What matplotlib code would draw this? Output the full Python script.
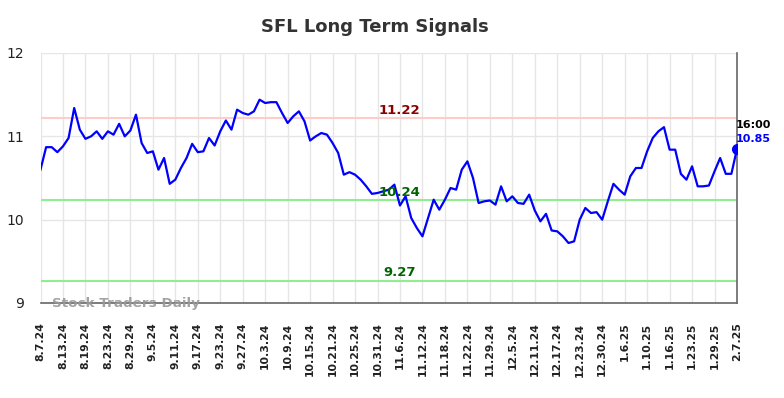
import numpy as np
import matplotlib.pyplot as plt

ticker = "SFL"
last_time = "16:00"

# closing prices, one per trading day shown on the chart
prices = [
    10.60, 10.87, 10.87, 10.81, 10.88, 10.98, 11.34, 11.08, 10.97, 11.00,
    11.06, 10.97, 11.06, 11.02, 11.15, 11.00, 11.07, 11.26, 10.92, 10.80,
    10.82, 10.60, 10.74, 10.43, 10.48, 10.62, 10.74, 10.91, 10.81, 10.82,
    10.98, 10.89, 11.06, 11.19, 11.08, 11.32, 11.28, 11.26, 11.30, 11.44,
    11.40, 11.41, 11.41, 11.28, 11.16, 11.24, 11.30, 11.18, 10.95, 11.00,
    11.04, 11.02, 10.92, 10.80, 10.54, 10.57, 10.54, 10.48, 10.40, 10.31,
    10.32, 10.34, 10.36, 10.42, 10.17, 10.28, 10.02, 9.90, 9.80, 10.02,
    10.24, 10.12, 10.24, 10.38, 10.36, 10.60, 10.70, 10.50, 10.20, 10.22,
    10.23, 10.18, 10.40, 10.22, 10.28, 10.20, 10.19, 10.30, 10.11, 9.98,
    10.07, 9.87, 9.86, 9.80, 9.72, 9.74, 10.00, 10.14, 10.08, 10.09,
    10.00, 10.22, 10.43, 10.36, 10.30, 10.52, 10.62, 10.62, 10.82, 10.98,
    11.06, 11.11, 10.84, 10.84, 10.55, 10.48, 10.64, 10.40, 10.40, 10.41,
    10.58, 10.74, 10.55, 10.55, 10.85,
]

tick_labels = [
    "8.7.24", "8.13.24", "8.19.24", "8.23.24", "8.29.24", "9.5.24", "9.11.24",
    "9.17.24", "9.23.24", "9.27.24", "10.3.24", "10.9.24", "10.15.24",
    "10.21.24", "10.25.24", "10.31.24", "11.6.24", "11.12.24", "11.18.24",
    "11.22.24", "11.29.24", "12.5.24", "12.11.24", "12.17.24", "12.23.24",
    "12.30.24", "1.6.25", "1.10.25", "1.16.25", "1.23.25", "1.29.25", "2.7.25",
]

resistance = 11.22
support_levels = [10.24, 9.27]

x = np.arange(len(prices))
tick_pos = np.arange(0, len(prices), 4)

fig = plt.figure(figsize=(7.84, 3.98), dpi=100)
ax = fig.add_axes([40.5 / 784, 1 - 303 / 398, 696.5 / 784, 250 / 398])

ax.plot(x, prices, color="blue", lw=1.6, zorder=3)
ax.plot(x[-1], prices[-1], "o", color="blue", ms=7, zorder=4)

ax.axhline(resistance, color="#ffcccc", lw=1.5, zorder=2)
for s in support_levels:
    ax.axhline(s, color="#90ee90", lw=1.5, zorder=2)

mid = 63.9
ax.text(mid, resistance + 0.09, f"{resistance:.2f}", color="#8b0000",
        fontsize=9.5, fontweight="bold", ha="center", va="center")
ax.text(mid, support_levels[0] + 0.09, f"{support_levels[0]:.2f}", color="#006400",
        fontsize=9.5, fontweight="bold", ha="center", va="center")
ax.text(mid, support_levels[1] + 0.10, f"{support_levels[1]:.2f}", color="#006400",
        fontsize=9.5, fontweight="bold", ha="center", va="center")

# last value annotation
ax.text(x[-1] - 0.2, prices[-1] + 0.286, last_time, color="black", fontsize=8,
        fontweight="bold", ha="left", va="center", clip_on=False)
ax.text(x[-1] - 0.2, prices[-1] + 0.118, f"{prices[-1]:.2f}", color="blue", fontsize=8,
        fontweight="bold", ha="left", va="center", clip_on=False)

ax.text(2, 9.0, "Stock Traders Daily", color="#999999", fontsize=9.7,
        fontweight="bold", ha="left", va="center", alpha=0.9, zorder=5)

ax.set_xlim(0, len(prices) - 1)
ax.set_ylim(9, 12)
ax.set_yticks([9, 10, 11, 12])
ax.set_xticks(tick_pos)
ax.set_xticklabels(tick_labels, rotation=90, fontsize=7.8, fontweight="bold", color="#222222")
ax.tick_params(axis="x", length=0, pad=14)
ax.tick_params(axis="y", length=0, pad=12, labelsize=10, labelcolor="#222222")
ax.grid(True, color="#e6e6e6", lw=1)
ax.set_axisbelow(True)

for side in ["top", "left"]:
    ax.spines[side].set_visible(False)
for side in ["bottom", "right"]:
    ax.spines[side].set_color("#666666")
    ax.spines[side].set_linewidth(1.2)

fig.text(374.5 / 784, 1 - 26.5 / 398, f"{ticker} Long Term Signals", ha="center", va="center",
         fontsize=13, fontweight="bold", color="#333333")

fig.savefig("out.png", dpi=100)
